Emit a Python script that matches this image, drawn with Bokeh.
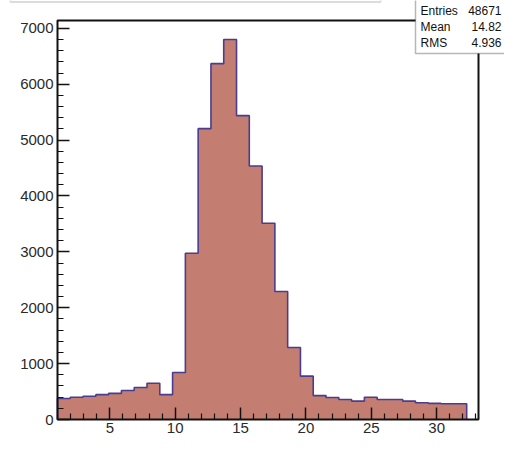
from bokeh.plotting import figure
from bokeh.models import FixedTicker, BoxAnnotation, Label, Range1d
from bokeh.embed import file_html
from bokeh.resources import INLINE

# ---- data ----
counts = [375, 398, 415, 445, 468, 520, 573, 649, 445, 841,
          2976, 5205, 6368, 6799, 5437, 4535, 3512, 2290, 1288, 776,
          428, 393, 358, 328, 398, 358, 358, 328, 300, 288, 283, 283]
bin_start = 1.0
bin_width = 0.978
x_min, x_max = 1.0, 33.2          # histogram frame (data)
y_min, y_max = 0, 7140
x_major = [5, 10, 15, 20, 25, 30]
y_major = [0, 1000, 2000, 3000, 4000, 5000, 6000, 7000]
stat_names = ["Entries", "Mean", "RMS"]
stat_values = ["48671", "14.82", "4.936"]

edges = [bin_start + i * bin_width for i in range(len(counts) + 1)]

# ---- geometry in figure pixels ----
W, H = 504, 435
FR_L, FR_R = 57, 478      # px of x_min, x_max
FR_T, FR_B = 20, 419      # px of y_max, y_min
sxp = (x_max - x_min) / (FR_R - FR_L)
syp = (y_max - y_min) / (FR_B - FR_T)

def px_to_x(px):
    return x_min + (px - FR_L) * sxp

def py_to_y(py):
    return y_max - (py - FR_T) * syp

p = figure(width=W, height=H, output_backend="svg", toolbar_location=None,
           x_range=Range1d(px_to_x(0), px_to_x(W)),
           y_range=Range1d(py_to_y(H), py_to_y(0)),
           min_border=0)
p.background_fill_color = "white"
p.border_fill_color = "white"
p.outline_line_color = None
p.xgrid.visible = False
p.ygrid.visible = False

# histogram fill + outline
sx, sy = [edges[0]], [0]
for i, c in enumerate(counts):
    sx += [edges[i], edges[i + 1]]
    sy += [c, c]
sx.append(edges[-1]); sy.append(0)
p.patch(sx, sy, fill_color="#c47e71", line_color=None)
p.line(sx, sy, line_color="#4a3c8e", line_width=1.6)

# frame box
p.quad(left=[x_min], right=[x_max], bottom=[y_min], top=[y_max],
       fill_color=None, line_color="#111111", line_width=2)

x_minor = [v for v in range(2, 34) if v not in x_major]
y_minor = [v for v in range(200, 7001, 200) if v not in y_major]
p.xaxis.ticker = FixedTicker(ticks=x_major, minor_ticks=x_minor)
p.yaxis.ticker = FixedTicker(ticks=y_major, minor_ticks=y_minor)
p.xaxis.fixed_location = y_min
p.yaxis.fixed_location = x_min
for ax in (p.xaxis[0], p.yaxis[0]):
    ax.axis_line_color = None
    ax.major_tick_in = 12
    ax.major_tick_out = 0
    ax.minor_tick_in = 6
    ax.minor_tick_out = 0
    ax.major_tick_line_color = "#111111"
    ax.major_tick_line_width = 1.5
    ax.minor_tick_line_color = "#111111"
    ax.minor_tick_line_width = 1.2
    ax.major_label_text_font = "Liberation Sans"
    ax.major_label_text_font_size = "15px"
    ax.major_label_text_color = "#2a2a2a"
p.xaxis.major_label_standoff = 3
p.yaxis.major_label_standoff = 4

# bottom edge of the (cut-off) title box
title_box = BoxAnnotation(left=px_to_x(10), right=px_to_x(380),
                          top=py_to_y(-10), bottom=py_to_y(1.5),
                          fill_color="white", fill_alpha=1.0,
                          line_color="#8a8a8a", line_width=2, level="overlay")
p.add_layout(title_box)

# stats box
box = BoxAnnotation(left=px_to_x(415), right=px_to_x(540),
                    top=py_to_y(-5), bottom=py_to_y(53),
                    fill_color="white", fill_alpha=1.0,
                    line_color="#111111", line_width=1.5, level="overlay")
p.add_layout(box)
rows_py = [10, 26, 42]
for name, val, py in zip(stat_names, stat_values, rows_py):
    p.add_layout(Label(x=px_to_x(420), y=py_to_y(py), text=name,
                       text_font="Liberation Sans", text_font_size="12px",
                       text_color="#111111",
                       text_baseline="middle", text_align="left", level="overlay"))
    p.add_layout(Label(x=px_to_x(501), y=py_to_y(py), text=val,
                       text_font="Liberation Sans", text_font_size="12px",
                       text_color="#111111",
                       text_baseline="middle", text_align="right", level="overlay"))

open("out.html", "w").write(file_html(p, INLINE))
